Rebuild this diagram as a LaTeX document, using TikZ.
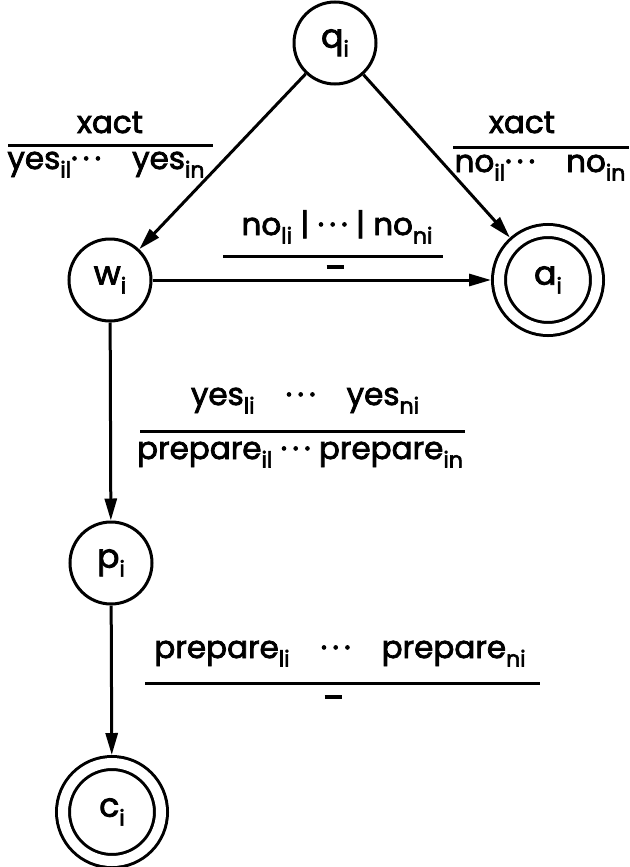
\documentclass[tikz,border=0pt]{standalone}
\usepackage{fontspec}
\setmainfont{Poppins}[FakeBold=2.5]
\usetikzlibrary{arrows.meta, positioning}

\newcommand{\dts}{\textperiodcentered\,\textperiodcentered\,\textperiodcentered}
\newcommand{\sbs}[1]{\raisebox{-0.5ex}{\fontsize{22}{24}\selectfont #1}}

\tikzset{
  state/.style={circle, draw, line width=3pt, minimum size=82pt, inner sep=0pt,
    font=\fontsize{33}{36}\selectfont},
  final/.style={state, double, double distance=10pt, minimum size=98pt, outer sep=8pt},
  trans/.style={line width=3pt, -{Triangle[length=22pt, width=12pt]}},
  lbl/.style={anchor=base, inner sep=0pt, font=\fontsize{31}{34}\selectfont},
  rulebar/.style={line width=3pt},
}

\begin{document}
\begin{tikzpicture}[x=1pt, y=-1pt]
\useasboundingbox (0,0) rectangle (629,867);

% States
\node[state] (q) at (335,43) {q\sbs{i}};
\node[state] (w) at (110,280) {w\sbs{i}};
\node[final] (a) at (548,280) {a\sbs{i}};
\node[state] (p) at (111,563) {p\sbs{i}};
\node[final] (c) at (112,812) {c\sbs{i}};

% Transitions
\draw[trans] (q) -- (w);
\draw[trans] (q) -- (a);
\draw[trans] (w) -- (a);
\draw[trans] (w) -- (p);
\draw[trans] (p) -- (c);

% q -> w label
\node[lbl] (xactL) at (110,133) {xact};
\draw[rulebar] (8,145) -- (213,145);
\node[lbl] (yesL) at (106,169) {yes\sbs{il}\dts\quad yes\sbs{in}};

% q -> a label
\node[lbl] (xactR) at (522,133) {xact};
\draw[rulebar] (453,147) -- (629,147);
\node[lbl] (noR) at (540,172) {no\sbs{il}\dts\quad no\sbs{in}};

% w -> a label
\node[lbl] (noM) at (337,235) {no\sbs{li} | \dts\ | no\sbs{ni}};
\draw[rulebar] (223,256) -- (443,256);
\node[lbl] (nilM) at (335,269) {\rule{17pt}{4.5pt}};

% w -> p label
\node[lbl] (yesP) at (305,405) {yes\sbs{li}\quad\dts\quad yes\sbs{ni}};
\draw[rulebar] (140,431) -- (465,431);
\node[lbl] (prepP) at (300,459) {prepare\sbs{il} \dts\ prepare\sbs{in}};

% p -> c label
\node[lbl] (prepC) at (340,658) {prepare\sbs{li}\quad\dts\quad prepare\sbs{ni}};
\draw[rulebar] (145,683) -- (540,683);
\node[lbl] (nilC) at (333,699) {\rule{17pt}{4.5pt}};

\end{tikzpicture}
\end{document}
